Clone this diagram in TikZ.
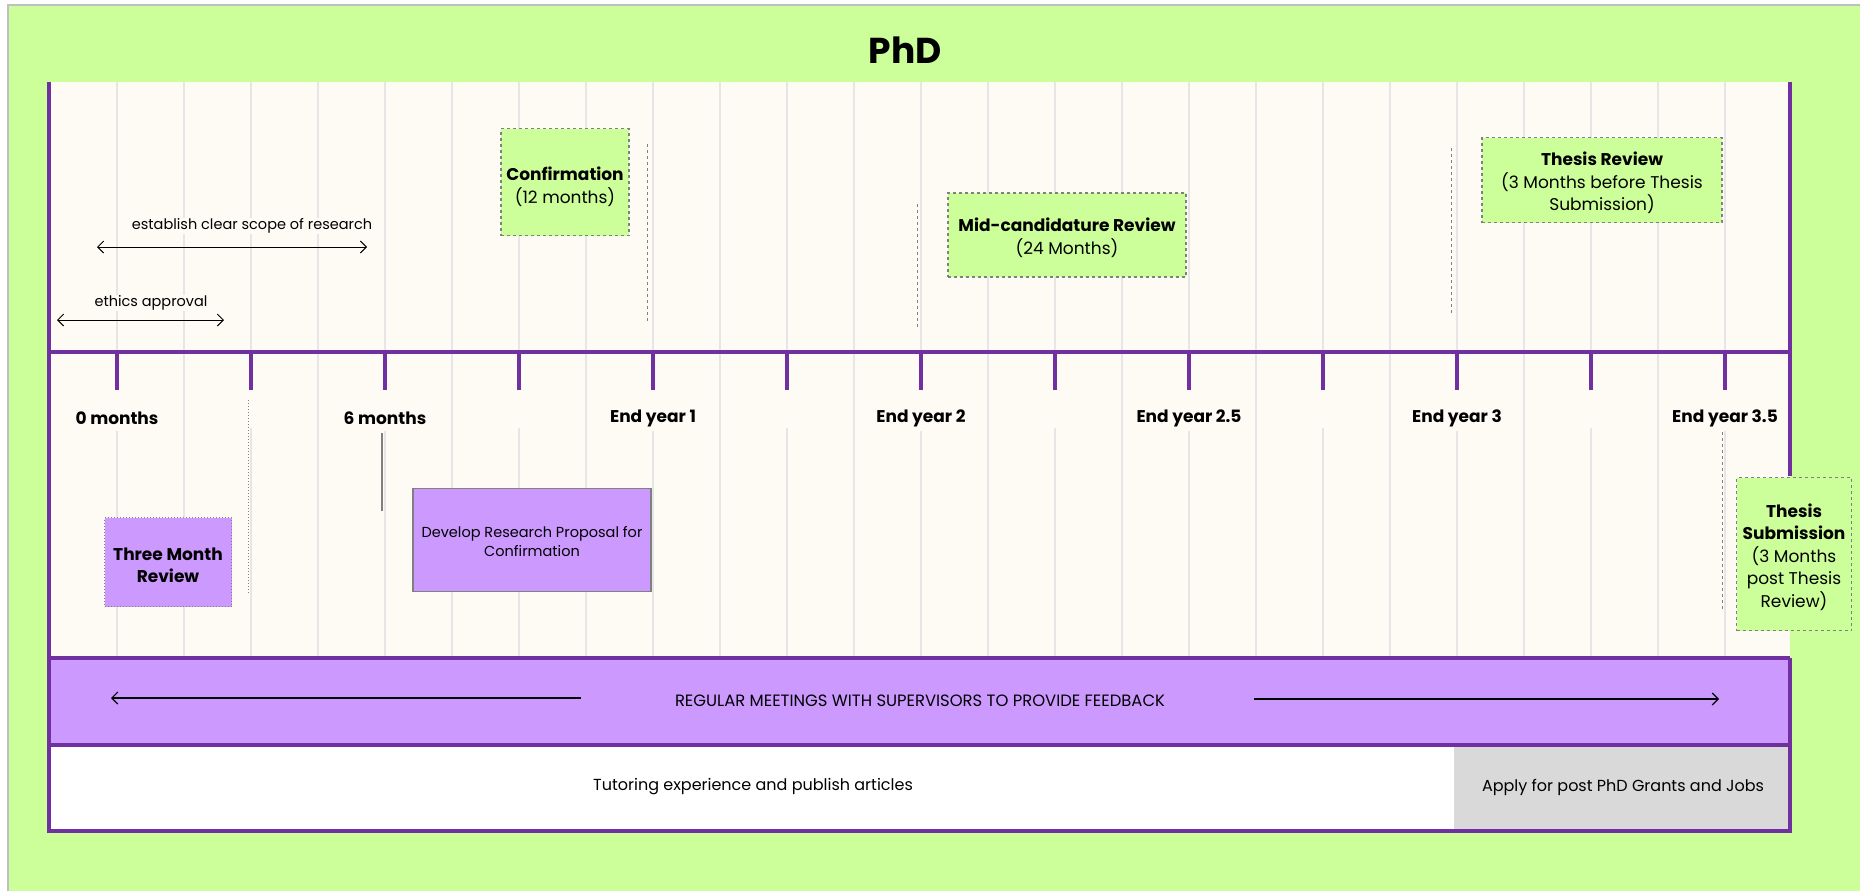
\documentclass[tikz,border=0pt]{standalone}
\usepackage{fontspec}
\setmainfont{Poppins}
\usetikzlibrary{arrows.meta}

\definecolor{bggreen}{HTML}{CCFF99}
\definecolor{cream}{HTML}{FDFBF4}
\definecolor{phdpurple}{HTML}{7030A0}
\definecolor{lavender}{HTML}{CC99FF}
\definecolor{gridgray}{HTML}{E6E6E6}
\definecolor{boxgray}{HTML}{D9D9D9}

% extra room above the first line of a box text
\newcommand{\lift}[1]{\rule{0pt}{#1}}

\tikzset{
  milestone/.style={draw=gray, dashed, line width=1.2pt, fill=bggreen, align=center, inner sep=0pt,
    font=\fontsize{17}{22.5}\selectfont},
  marker/.style={gray, dashed, line width=1pt},
  ticklabel/.style={fill=cream, inner sep=3pt, minimum height=26pt, font=\fontsize{17}{20}\selectfont\bfseries},
  span/.style={{Straight Barb[length=6pt,width=12pt]}-{Straight Barb[length=6pt,width=12pt]}, line width=1pt},
  smalltext/.style={fill=cream, inner sep=1pt, font=\fontsize{14.5}{17}\selectfont},
  bandtext/.style={font=\fontsize{16}{19}\selectfont},
}

\begin{document}
\begin{tikzpicture}[x=1pt,y=-1pt]
\useasboundingbox (0,0) rectangle (1860,891);
\fill[white] (0,0) rectangle (1860,891);
\fill[bggreen] (8,5) rectangle (1860,891);
\draw[black!25, line width=2pt] (8,891) -- (8,5) -- (1860,5);

% title
\node[font=\fontsize{36}{40}\selectfont\bfseries] (title) at (905,50) {PhD};

% timeline area
\fill[cream] (49,82) rectangle (1790,658);
\foreach \k in {0,...,12} {
  \draw[gridgray, line width=1.5pt] (117+134*\k,82) -- (117+134*\k,352);
  \draw[gridgray, line width=1.5pt] (117+134*\k,428) -- (117+134*\k,658);
}
\foreach \k in {0,...,11}
  \draw[gridgray, line width=1.5pt] (184+134*\k,82) -- (184+134*\k,658);

\draw[phdpurple, line width=4pt] (49,352) -- (1790,352);
\foreach \k in {0,...,12}
  \draw[phdpurple, line width=3.5pt] (117+134*\k,352) -- (117+134*\k,390);

% month labels
\node[ticklabel] (m0) at (117,418) {0 months};
\node[ticklabel] (m6) at (385,418) {6 months};
\node[ticklabel] (y1) at (653,418) {End year 1};
\node[ticklabel] (y2) at (921,418) {End year 2};
\node[ticklabel] (y25) at (1189,418) {End year 2.5};
\node[ticklabel] (y3) at (1457,418) {End year 3};
\node[ticklabel] (y35) at (1725,418) {End year 3.5};

% upper activities
\node[smalltext] (scope) at (252,226) {establish clear scope of research};
\coordinate (scopeL) at (97,247);
\coordinate (scopeR) at (367,247);
\draw[span] (scopeL) -- (scopeR);

\node[smalltext] (ethics) at (151,303) {ethics approval};
\coordinate (ethicsL) at (57,320);
\coordinate (ethicsR) at (224,320);
\draw[span] (ethicsL) -- (ethicsR);

\node[milestone, minimum width=128pt, minimum height=107pt, font=\fontsize{17}{23}\selectfont] (confirm) at (565,182)
  {\lift{24pt}\textbf{Confirmation}\\(12 months)};
\draw[marker] (647,144) -- (647,323);

\node[milestone, minimum width=238pt, minimum height=84pt, font=\fontsize{17}{23}\selectfont] (midrev) at (1067,235)
  {\lift{20pt}\textbf{Mid-candidature Review}\\(24 Months)};
\draw[marker] (917,204) -- (917,328);

\node[milestone, minimum width=240pt, minimum height=85pt] (threv) at (1602,180)
  {\lift{20pt}\textbf{Thesis Review}\\(3 Months before Thesis\\Submission)};
\draw[marker] (1451,148) -- (1451,313);

% lower activities
\draw[gray, dotted, line width=1pt] (248,400) -- (248,594);
\node[draw=gray, dotted, line width=1pt, fill=lavender, align=center, minimum width=127pt, minimum height=89pt,
  font=\fontsize{17}{22}\selectfont\bfseries] (threemonth) at (168,562)
  {\lift{20pt}Three Month\\Review};

\draw[gray, line width=1.5pt] (382,433) -- (382,511);
\node[draw=gray, line width=1.5pt, fill=lavender, align=center, minimum width=238pt, minimum height=103pt,
  font=\fontsize{14.5}{19}\selectfont] (proposal) at (532,540)
  {\lift{15pt}Develop Research Proposal for\\Confirmation};

% right border of the timeline area
\draw[phdpurple, line width=4pt] (1790,82) -- (1790,476);
\draw[marker] (1722,432) -- (1722,610);
\node[milestone, minimum width=115pt, minimum height=153pt] (submit) at (1794,554)
  {\lift{20pt}\textbf{Thesis}\\\textbf{Submission}\\(3 Months\\post Thesis\\Review)};

% supervisor meetings band
\fill[lavender] (49,658) rectangle (1790,745);
\node[bandtext, font=\fontsize{16.4}{19}\selectfont] (meetings) at (920,701)
  {REGULAR MEETINGS WITH SUPERVISORS TO PROVIDE FEEDBACK};
\coordinate (meetL) at (111,698);
\coordinate (meetR) at (1719,699);
\draw[-{Straight Barb[length=6pt,width=12pt]}, line width=1.2pt] (581,698) -- (meetL);
\draw[-{Straight Barb[length=6pt,width=12pt]}, line width=1.2pt] (1254,699) -- (meetR);

% bottom band
\fill[white] (49,745) rectangle (1454,831);
\fill[boxgray] (1454,745) rectangle (1790,831);
\node[bandtext] (tutoring) at (753,787) {Tutoring experience and publish articles};
\node[bandtext] (apply) at (1623,787) {Apply for post PhD Grants and Jobs};

% purple frame lines
\draw[phdpurple, line width=4pt] (49,658) -- (1790,658);
\draw[phdpurple, line width=4pt] (49,745) -- (1790,745);
\draw[phdpurple, line width=4pt] (1790,658) -- (1790,833);
\draw[phdpurple, line width=4pt] (49,82) -- (49,833);
\draw[phdpurple, line width=4pt] (47,831) -- (1792,831);
\end{tikzpicture}
\end{document}
